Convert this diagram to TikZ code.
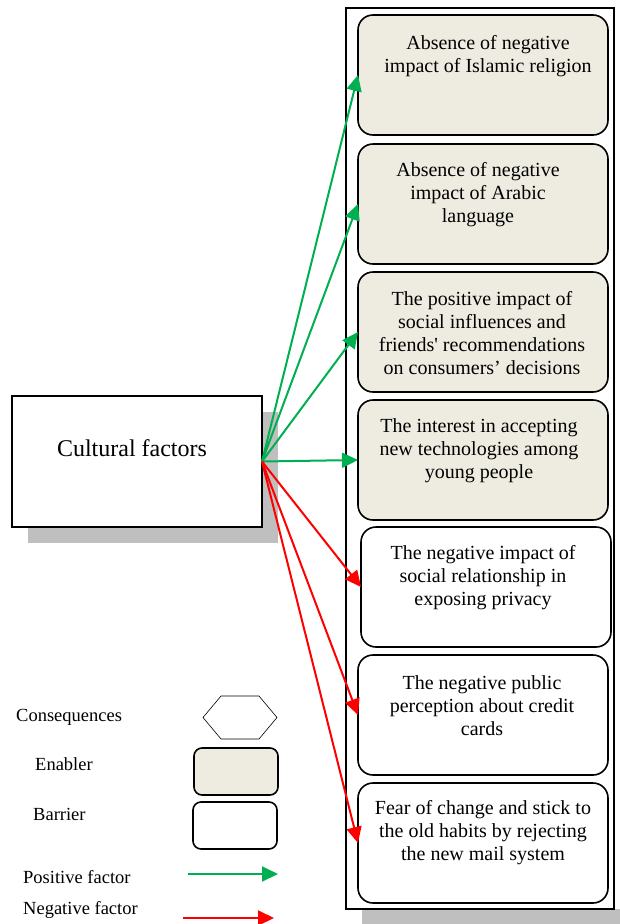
\documentclass[tikz,border=0pt]{standalone}
\usepackage{fontspec}
\setmainfont{Liberation Serif}
\usetikzlibrary{arrows.meta}
\definecolor{posgreen}{RGB}{0,176,80}
\definecolor{negred}{RGB}{255,0,0}
\definecolor{enablerfill}{RGB}{238,236,225}
\definecolor{shadowgray}{RGB}{191,191,191}
\begin{document}
\begin{tikzpicture}[x=1pt,y=-1pt,
  consbox/.style={draw=black, line width=1.6pt, rounded corners=15pt,
    minimum width=250pt, minimum height=120pt, inner sep=0pt, outer sep=0pt},
  enabler/.style={consbox, fill=enablerfill},
  barrier/.style={consbox, fill=white},
  boxtext/.style={align=center, font=\fontsize{20}{23}\selectfont, inner sep=0pt},
  legendtext/.style={anchor=west, font=\fontsize{18.5}{21}\selectfont, inner sep=0pt},
  legendbox/.style={draw=black, line width=1.6pt, rounded corners=8pt,
    minimum width=84pt, minimum height=47pt, inner sep=0pt},
  posarrow/.style={draw=posgreen, line width=2pt, -{Triangle[length=16pt,width=15pt]}},
  negarrow/.style={draw=negred, line width=2pt, -{Triangle[length=16pt,width=15pt]}},
]
\useasboundingbox (0,0) rectangle (620,924);

% container of the consequences, with its shadow
\fill[shadowgray] (362,909) rectangle (620,924);
\draw[line width=1.5pt, fill=white] (346,8) rectangle (614,909);

% cultural factors box with its shadow
\fill[shadowgray] (28,412) rectangle (278,543);
\node[draw=black, line width=2pt, fill=white, minimum width=250pt,
  minimum height=131pt, inner sep=0pt, outer sep=0pt] (cf) at (137,461.5) {};
\node[font=\fontsize{24}{28}\selectfont, inner sep=0pt] (cftext) at (132,448) {Cultural factors};

% enablers
\node[enabler] (e1) at (483,75) {};
\node[enabler] (e2) at (483,204) {};
\node[enabler] (e3) at (483,332) {};
\node[enabler] (e4) at (483,460) {};
% barriers
\node[barrier] (b1) at (486,587) {};
\node[barrier] (b2) at (483,715) {};
\node[barrier] (b3) at (483,843) {};

\node[boxtext] (t1) at (488,56) {Absence of negative\\impact of Islamic religion};
\node[boxtext] (t2) at (478,195) {Absence of negative\\impact of Arabic\\language};
\node[boxtext] (t3) at (482,333) {The positive impact of\\social influences and\\friends\textquotesingle{} recommendations\\on consumers’ decisions};
\node[boxtext] (t4) at (479,451) {The interest in accepting\\new technologies among\\young people};
\node[boxtext] (t5) at (483,578) {The negative impact of\\social relationship in\\exposing privacy};
\node[boxtext] (t6) at (482,706) {The negative public\\perception about credit\\cards};
\node[boxtext] (t7) at (483,833) {Fear of change and stick to\\the old habits by rejecting\\the new mail system};

% connectors
\draw[posarrow] (cf.east) -- (e1.west);
\draw[posarrow] (cf.east) -- (e2.west);
\draw[posarrow] (cf.east) -- (e3.west);
\draw[posarrow] (cf.east) -- (e4.west);
\draw[negarrow] (cf.east) -- (b1.west);
\draw[negarrow] (cf.east) -- (b2.west);
\draw[negarrow] (cf.east) -- (b3.west);

% legend
\node[legendtext] (lcons) at (16,717.5) {Consequences};
\draw[line width=0.6pt] (203,717.5) -- (221,696) -- (259,696) -- (277,717.5)
  -- (259,739) -- (221,739) -- cycle;
\node[legendtext] (lenab) at (35,764) {Enabler};
\node[legendbox, fill=enablerfill] (legE) at (236,771.5) {};
\node[legendtext] (lbarr) at (33,814.5) {Barrier};
\node[legendbox, fill=white] (legB) at (235,825.5) {};
\node[legendtext] (lpos) at (23,877) {Positive factor};
\coordinate (pa0) at (188,874);
\coordinate (pa1) at (278,874);
\draw[posarrow] (pa0) -- (pa1);
\node[legendtext] (lneg) at (23,910) {Negative factor};
\coordinate (na0) at (183,918);
\coordinate (na1) at (274,918);
\draw[negarrow] (na0) -- (na1);
\end{tikzpicture}
\end{document}
